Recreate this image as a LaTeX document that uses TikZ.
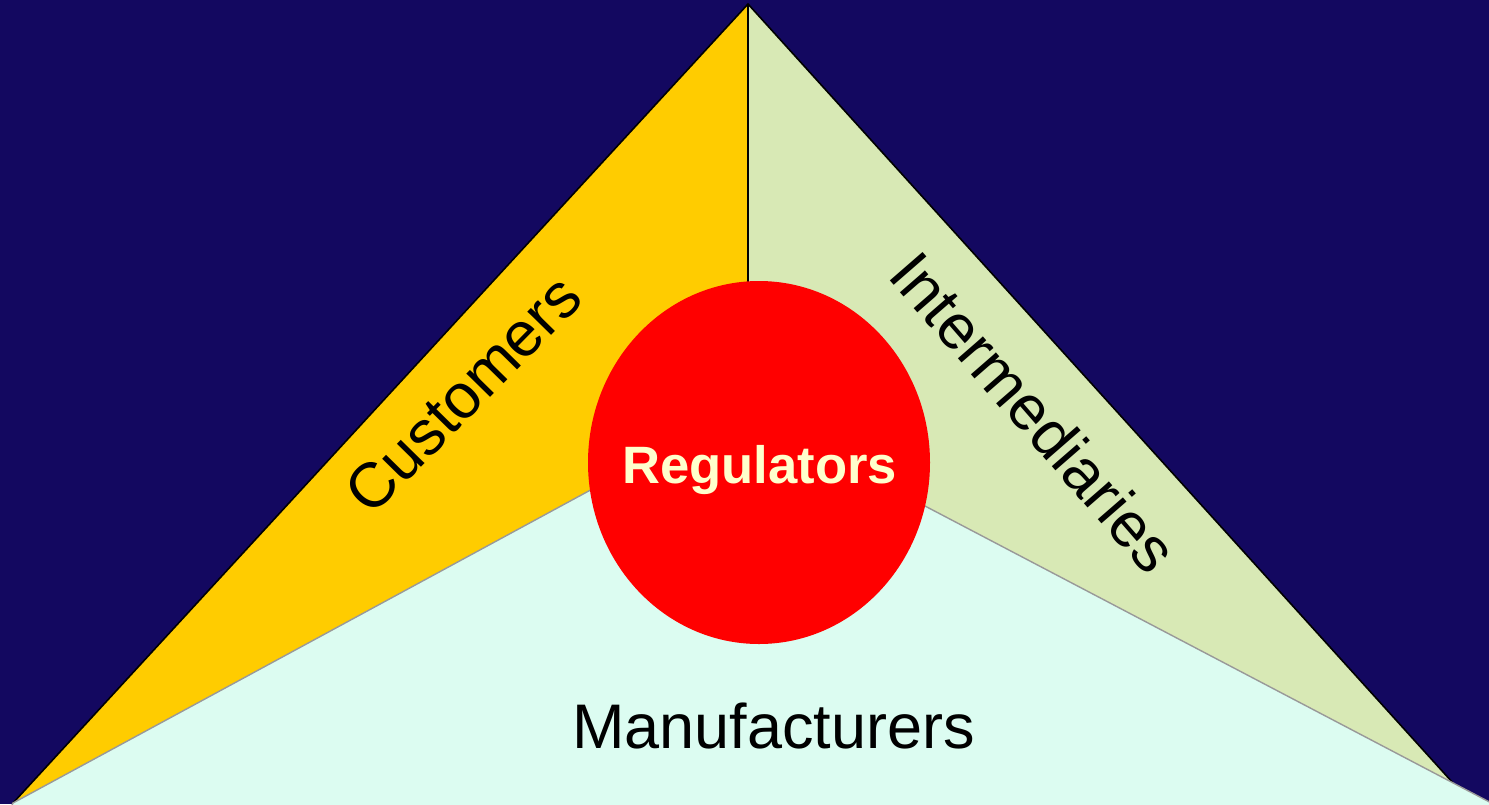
\documentclass[tikz,border=0pt]{standalone}
\usepackage{fontspec}
\setmainfont{Liberation Sans}
\usetikzlibrary{shapes.geometric}
\definecolor{night}{HTML}{130860}
\definecolor{gold}{HTML}{FFCC00}
\definecolor{sage}{HTML}{D8E9B5}
\definecolor{mint}{HTML}{DCFCF1}
\definecolor{cream}{HTML}{FFFFCC}
\definecolor{seam}{HTML}{999999}
\begin{document}
\begin{tikzpicture}[x=1pt,y=-1pt,
  wing/.style={line width=1.6pt,draw=black,line join=miter},
  label/.style={font=\fontsize{63}{70}\selectfont,text=black,inner sep=0pt},
  hub/.style={ellipse,fill=red,minimum width=342pt,minimum height=363pt,inner sep=0pt}]
  \useasboundingbox (0,0) rectangle (1489,804);
  \fill[night] (0,0) rectangle (1489,804);
  \begin{scope}
    \clip (0,0) rectangle (1489,804);
    % corners of the three segments
    \coordinate (apex) at (748,4);
    \coordinate (bl) at (13,803);
    \coordinate (br) at (1453,783);
    \coordinate (mid) at (748,409);
    \coordinate (low) at (740,409);
    \coordinate (far) at (1520,818);
    % upper wedges (their lower parts are covered by the base wedge)
    \fill[gold] (apex) -- (bl) -- (mid) -- cycle;
    \fill[sage] (apex) -- (br) -- (1453,830) -- (748,830) -- (mid) -- cycle;
    \draw[wing] (bl) -- (apex) -- (br);
    \draw[line width=1.6pt] (apex) -- (mid);
    % base wedge
    \filldraw[fill=mint,draw=seam,line width=1.4pt] (bl) -- (low) -- (far) -- (1520,830) -- (0,830) -- cycle;
  \end{scope}
  % centre disc
  \node[hub] (reg) at (759,462.5) {};
  \node[font=\fontsize{52.6}{60}\selectfont\bfseries,text=cream,anchor=base,inner sep=0pt] (regtxt) at (759.5,483) {Regulators};
  \node[label,anchor=base] (man) at (773.5,748) {Manufacturers};
  \node[label,rotate=45.5] (cus) at (463,394) {Customers};
  \node[label,rotate=-49] (int) at (1034,412) {Intermediaries};
\end{tikzpicture}
\end{document}
